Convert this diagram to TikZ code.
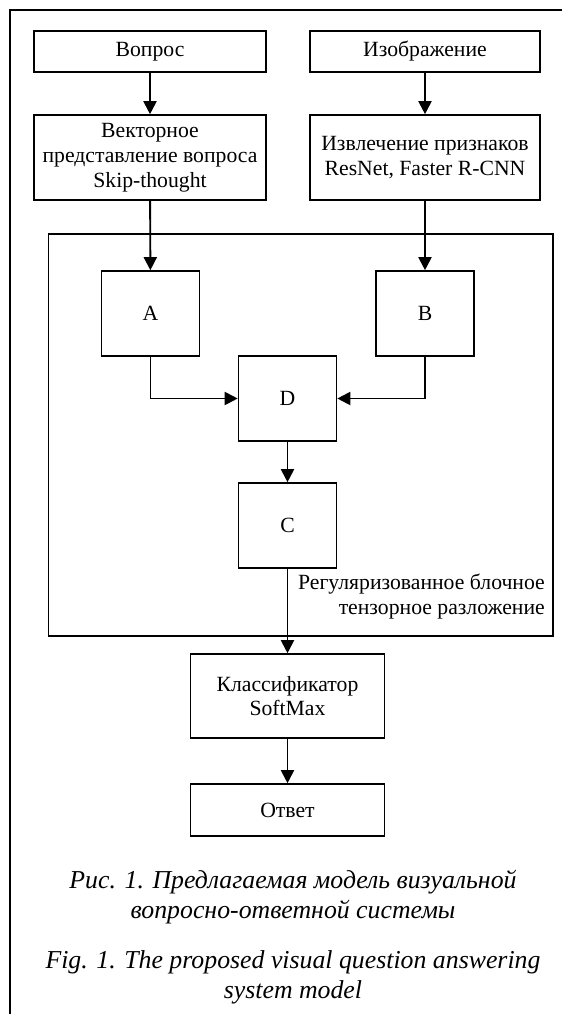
\documentclass[tikz,border=0pt]{standalone}
\usepackage{fontspec}
\setmainfont{Liberation Serif}
\usetikzlibrary{arrows.meta}
\begin{document}
\begin{tikzpicture}[x=1pt,y=-1pt,
  box/.style={draw,line width=1.6pt,inner sep=0pt,align=center,
    font=\fontsize{21.7}{24.8}\selectfont},
  innerframe/.style={draw,line width=1.6pt,inner sep=0pt},
  arr/.style={line width=1.9pt,-{Triangle[length=13pt,width=13pt]}},
  lbl/.style={inner sep=0pt,align=right,font=\fontsize{21.7}{25}\selectfont},
  captxt/.style={inner sep=0pt,align=center,font=\fontsize{25.8}{30}\selectfont\itshape}]
\useasboundingbox (0,0) rectangle (562,1014);
\draw[line width=1.4pt] (10,1014) -- (10,10) -- (562,10);
% top row
\node[box,minimum width=232pt,minimum height=41pt] (q) at (150,51.5) {Вопрос};
\node[box,minimum width=230pt,minimum height=41pt] (img) at (425,51.5) {Изображение};
\node[box,minimum width=232pt,minimum height=85pt] (vec) at (150,157.5) {Векторное\\представление вопроса\\Skip-thought};
\node[box,minimum width=230pt,minimum height=85pt] (feat) at (425,157.5) {Извлечение признаков\\ResNet, Faster R-CNN};
% inner frame
\node[innerframe,minimum width=504.5pt,minimum height=402pt] (fr) at (300.75,435) {};
\node[box,minimum width=98pt,minimum height=85pt] (A) at (150.5,313.5) {A};
\node[box,minimum width=98pt,minimum height=85pt] (B) at (425,313.5) {B};
\node[box,minimum width=98pt,minimum height=85pt] (D) at (287.5,398.5) {D};
\node[box,minimum width=98pt,minimum height=85pt] (C) at (287.5,525.5) {C};
\node[lbl,anchor=base east] (reg) at (545,614) {Регуляризованное блочное\\тензорное разложение};
% bottom
\node[box,minimum width=194pt,minimum height=84pt] (cls) at (287.5,696) {Классификатор\\SoftMax};
\node[box,minimum width=194pt,minimum height=52pt] (ans) at (287.5,810) {Ответ};
% captions
\node[captxt] (cru) at (293,897) {Рис. 1. Предлагаемая модель визуальной\\вопросно-ответной системы};
\node[captxt] (cen) at (293,977) {Fig. 1. The proposed visual question answering\\system model};
% connectors
\draw[arr] (q) -- (vec);
\draw[arr] (img) -- (feat);
\draw[arr] (vec) -- (A);
\draw[arr] (feat) -- (B);
\draw[arr] (A.south) |- (D.west);
\draw[arr] (B.south) |- (D.east);
\draw[arr] (D) -- (C);
\draw[arr] (C) -- (cls);
\draw[arr] (cls) -- (ans);
\end{tikzpicture}
\end{document}
